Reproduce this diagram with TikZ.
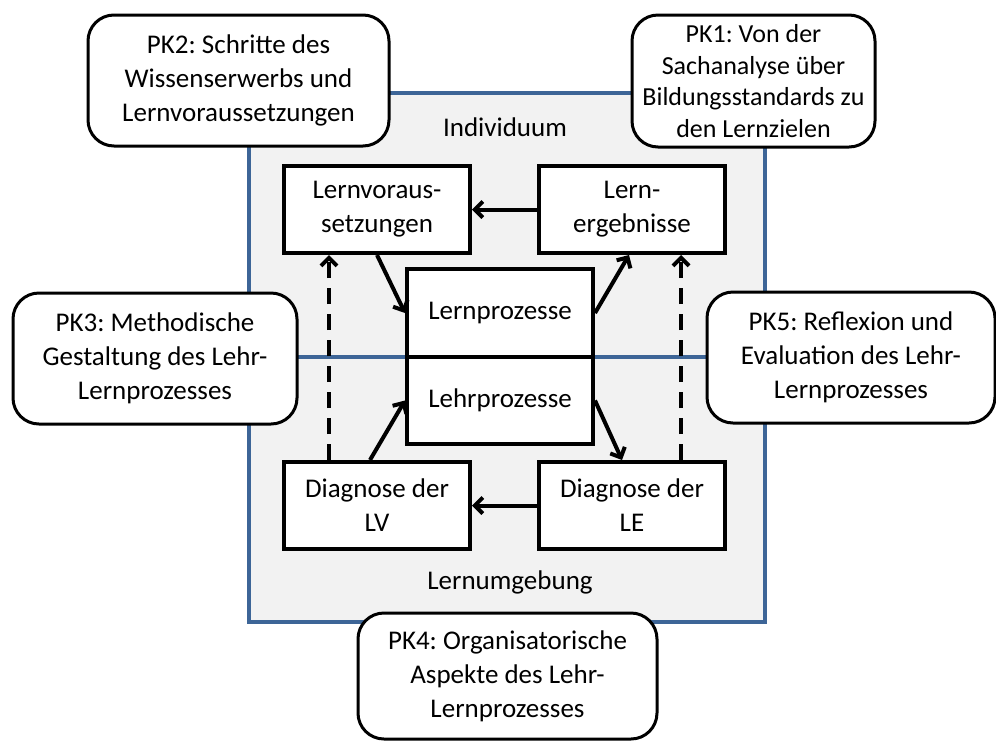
\documentclass[tikz,border=0pt]{standalone}
\usepackage{fontspec}
\setmainfont{Carlito}
\usetikzlibrary{arrows.meta}
\definecolor{frameblue}{HTML}{3D6597}
\definecolor{framefill}{HTML}{F2F2F2}
\frenchspacing
\begin{document}
\begin{tikzpicture}[x=1pt,y=-1pt,
  every node/.style={font=\fontsize{27}{34}\selectfont},
  procbox/.style={draw=black,line width=4pt,fill=white,inner sep=0pt,minimum width=186pt,minimum height=87pt,align=center},
  pkbox/.style={draw=black,line width=3pt,fill=white,rounded corners=26pt,inner sep=0pt,align=center},
  flow/.style={line width=4pt,-{Straight Barb[length=8pt,width=16pt]}},
  back/.style={flow,dash pattern=on 16pt off 10pt}
]
\useasboundingbox (0,0) rectangle (996,740);
% frame
\draw[frameblue,line width=3.5pt,fill=framefill] (249,93) rectangle (765,622);
\coordinate (ml) at (249,357);
\coordinate (mr) at (765,357);
\draw[frameblue,line width=3.5pt] (ml) -- (mr);
\node (ind) at (505,127) {Individuum};
\node (umg) at (510,582) {Lernumgebung};
% process boxes
\node[procbox] (lv) at (377,209.5) {Lernvoraus-\\setzungen};
\node[procbox] (le) at (632,209.5) {Lern-\\ergebnisse};
\node[procbox,minimum height=88pt] (lp) at (500,313) {Lernprozesse};
\node[procbox] (lh) at (500,400.5) {Lehrprozesse};
\node[procbox] (dlv) at (377,505.5) {Diagnose der\\LV};
\node[procbox] (dle) at (632,505.5) {Diagnose der\\LE};
% arrows
\draw[flow] (le.west) -- (lv.east);
\draw[flow] (lv.south) -- (lp.west);
\draw[flow] (lp.east) -- ([xshift=-3pt]le.south);
\draw[flow] ([xshift=-7pt]dlv.north) -- (lh.west);
\draw[flow] (lh.east) -- ([xshift=-10pt]dle.north);
\draw[flow] (dle.west) -- (dlv.east);
\draw[back] ([xshift=-48pt]dlv.north) -- ([xshift=-48pt]lv.south);
\draw[back] ([xshift=49pt]dle.north) -- ([xshift=49pt]le.south);
% PK boxes
\node[pkbox,minimum width=301pt,minimum height=131pt] (pk2) at (238.5,80.5) {PK2: Schritte des\\Wissenserwerbs und\\Lernvoraussetzungen};
\node[pkbox,minimum width=243pt,minimum height=132pt,font=\fontsize{26}{31.5}\selectfont] (pk1) at (753.5,81) {PK1: Von der\\Sachanalyse über\\Bildungsstandards zu\\den Lernzielen};
\node[pkbox,minimum width=284pt,minimum height=131pt] (pk3) at (155,358.5) {PK3: Methodische\\Gestaltung des Lehr-\\Lernprozesses};
\node[pkbox,minimum width=288pt,minimum height=131pt] (pk5) at (851,357.5) {PK5: Reflexion und\\Evaluation des Lehr-\\Lernprozesses};
\node[pkbox,minimum width=299pt,minimum height=126pt] (pk4) at (507.5,676) {PK4: Organisatorische\\Aspekte des Lehr-\\Lernprozesses};
\end{tikzpicture}
\end{document}
